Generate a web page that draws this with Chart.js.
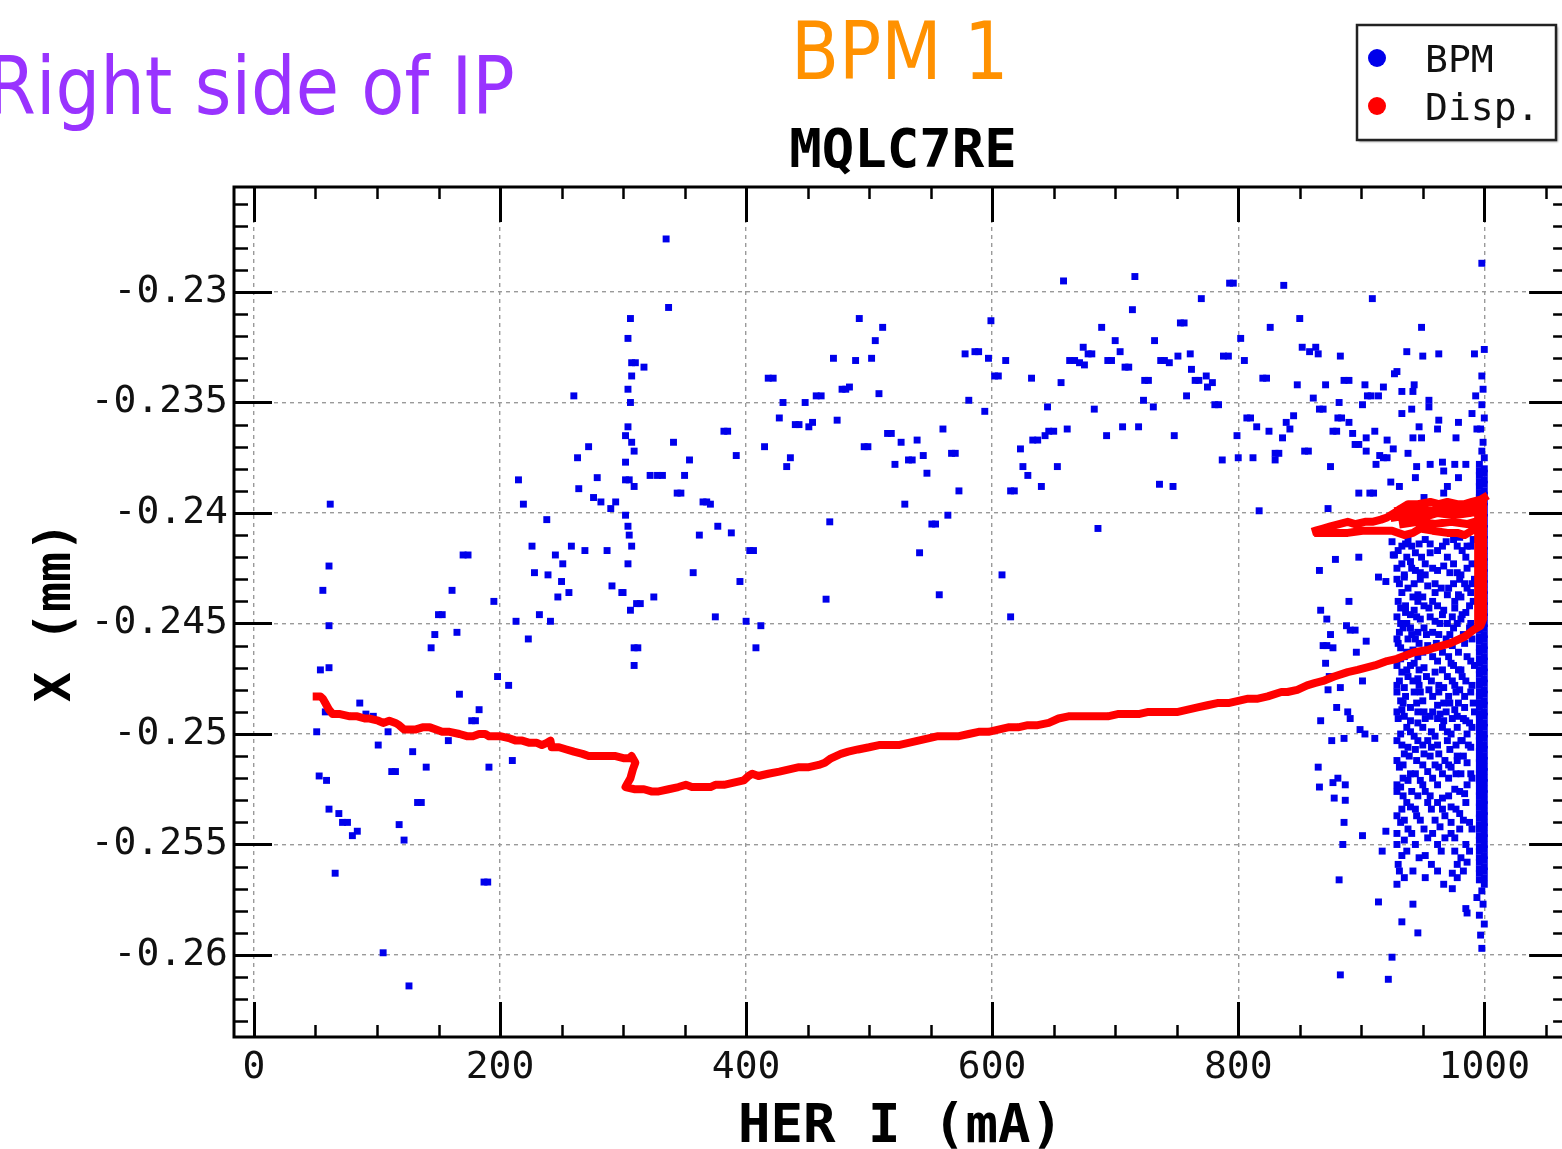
<!DOCTYPE html>
<html>
<head>
<meta charset="utf-8">
<script src="https://cdn.jsdelivr.net/npm/chart.js@4.4.0/dist/chart.umd.min.js"></script>
<style>
  html, body { margin: 0; padding: 0; background: #fff; overflow: hidden; width: 1562px; height: 1149px; }
  #wrap { position: absolute; left: 0; top: 0; width: 1572px; height: 1149px; }
  .note { position: absolute; white-space: nowrap; font-family: "DejaVu Sans", sans-serif; font-size: 80px; line-height: 80px; }
  #side { color: #9933ff; right: 1047px; top: 47px; transform: scaleX(0.88); transform-origin: right top; }
  #bpm { color: #ff9100; left: 791px; top: 12px; transform: scaleX(0.875); transform-origin: left top; }
</style>
</head>
<body>
<div id="wrap"><canvas id="chart" width="1572" height="1149"></canvas></div>
<div class="note" id="side">Right side of IP</div>
<div class="note" id="bpm">BPM 1</div>
<script>
// 축 눈금 값
var xTickVals = [0, 200, 400, 600, 800, 1000];
var yTickVals = [-0.26, -0.255, -0.25, -0.245, -0.24, -0.235, -0.23];

// BPM 측정점 [HER I (mA), X (mm)]
var bpmPoints = [
  [62,-0.2396],[61,-0.2424],[56,-0.2435],[61,-0.2451],[54,-0.2471],[61,-0.2470],[58,-0.2490],[51,-0.2499],
  [86,-0.2486],[91,-0.2491],[97,-0.2492],[109,-0.2499],[101,-0.2505],[53,-0.2519],[59,-0.2521],[61,-0.2534],
  [69,-0.2536],[72,-0.2540],[76,-0.2540],[80,-0.2546],[84,-0.2544],[66,-0.2563],[112,-0.2517],[115,-0.2517],
  [129,-0.2508],[140,-0.2515],[118,-0.2541],[122,-0.2548],[133,-0.2531],[136,-0.2531],[105,-0.2599],[126,-0.2614],
  [144,-0.2461],[147,-0.2455],[165,-0.2454],[167,-0.2482],[158,-0.2503],[183,-0.2489],[177,-0.2494],[180,-0.2494],
  [198,-0.2474],[207,-0.2478],[191,-0.2515],[210,-0.2512],[187,-0.2567],[190,-0.2567],[223,-0.2457],[213,-0.2449],
  [241,-0.2449],[309,-0.2461],[312,-0.2461],[309,-0.2469],[400,-0.2449],[408,-0.2461],
  [170,-0.2419],[174,-0.2419],[161,-0.2435],[150,-0.2446],[153,-0.2446],[195,-0.2440],[215,-0.2385],[219,-0.2396],
  [238,-0.2403],[226,-0.2415],[228,-0.2427],[239,-0.2428],[245,-0.2419],[251,-0.2423],[250,-0.2431],[247,-0.2438],
  [256,-0.2436],[258,-0.2415],[269,-0.2417],[287,-0.2417],[291,-0.2433],[299,-0.2436],[232,-0.2446],[260,-0.2347],
  [272,-0.2370],[263,-0.2375],[279,-0.2384],[264,-0.2389],[276,-0.2393],[282,-0.2395],[290,-0.2398],[294,-0.2395],
  [335,-0.2276],[337,-0.2307],[306,-0.2312],[304,-0.2321],[307,-0.2332],[310,-0.2332],[317,-0.2334],[307,-0.2338],
  [304,-0.2344],[306,-0.2350],[304,-0.2361],[302,-0.2365],[307,-0.2368],[309,-0.2372],[302,-0.2377],[302,-0.2385],
  [305,-0.2385],[309,-0.2388],[341,-0.2368],[322,-0.2383],[328,-0.2383],[332,-0.2383],[350,-0.2383],[354,-0.2376],
  [344,-0.2391],[347,-0.2391],[382,-0.2363],[385,-0.2363],[392,-0.2374],[365,-0.2395],[368,-0.2395],[371,-0.2396],
  [302,-0.2401],[304,-0.2406],[305,-0.2410],[307,-0.2415],[304,-0.2423],[362,-0.2410],[377,-0.2406],[388,-0.2409],
  [403,-0.2417],[406,-0.2417],[357,-0.2427],[395,-0.2431],[300,-0.2436],[325,-0.2438],[311,-0.2441],[314,-0.2441],
  [306,-0.2444],[375,-0.2447],[412,-0.2451],[418,-0.2339],[422,-0.2339],[430,-0.2350],[427,-0.2357],[415,-0.2370],
  [436,-0.2375],[433,-0.2379],[440,-0.2360],[443,-0.2360],[451,-0.2361],[454,-0.2359],[448,-0.2350],[457,-0.2347],
  [461,-0.2347],[471,-0.2330],[474,-0.2358],[478,-0.2344],[481,-0.2344],[484,-0.2343],[489,-0.2331],[492,-0.2312],
  [502,-0.2330],[505,-0.2322],[511,-0.2316],[508,-0.2346],[496,-0.2370],[499,-0.2370],[515,-0.2364],[518,-0.2364],
  [526,-0.2368],[539,-0.2367],[521,-0.2378],[532,-0.2376],[535,-0.2376],[544,-0.2374],[547,-0.2382],[560,-0.2362],
  [567,-0.2373],[570,-0.2373],[573,-0.2390],[529,-0.2396],[468,-0.2404],[551,-0.2405],[554,-0.2405],[564,-0.2401],
  [541,-0.2418],[465,-0.2439],[557,-0.2437],[578,-0.2328],[586,-0.2327],[589,-0.2327],[597,-0.2330],[599,-0.2313],
  [602,-0.2338],[605,-0.2338],[581,-0.2349],[594,-0.2354],[611,-0.2331],[615,-0.2390],[618,-0.2390],[608,-0.2428],
  [615,-0.2447],
  [658,-0.2295],[716,-0.2293],[793,-0.2296],[796,-0.2296],[837,-0.2297],[770,-0.2303],[909,-0.2303],[714,-0.2308],
  [753,-0.2314],[756,-0.2314],[689,-0.2316],[826,-0.2316],[850,-0.2312],[802,-0.2321],[732,-0.2322],[700,-0.2322],
  [674,-0.2325],[704,-0.2327],[678,-0.2328],[681,-0.2328],[663,-0.2331],[667,-0.2331],[671,-0.2332],[675,-0.2333],
  [694,-0.2331],[697,-0.2331],[708,-0.2334],[711,-0.2334],[737,-0.2331],[740,-0.2331],[744,-0.2332],[751,-0.2329],
  [761,-0.2328],[762,-0.2335],[774,-0.2338],[765,-0.2340],[768,-0.2340],[779,-0.2341],[775,-0.2343],[788,-0.2329],
  [792,-0.2329],[805,-0.2331],[852,-0.2325],[858,-0.2327],[863,-0.2325],[865,-0.2328],[883,-0.2329],[927,-0.2337],
  [632,-0.2339],[656,-0.2341],[724,-0.2340],[727,-0.2340],[820,-0.2339],[823,-0.2339],[848,-0.2342],[871,-0.2342],
  [886,-0.2340],[890,-0.2340],[903,-0.2342],[918,-0.2343],[914,-0.2347],[905,-0.2347],[908,-0.2347],[758,-0.2347],
  [723,-0.2349],[731,-0.2352],[781,-0.2351],[784,-0.2351],[683,-0.2353],[645,-0.2352],[861,-0.2348],[866,-0.2353],
  [869,-0.2353],[882,-0.2350],[901,-0.2351],[807,-0.2357],[810,-0.2357],[815,-0.2361],[825,-0.2363],[839,-0.2359],
  [845,-0.2356],[842,-0.2362],[836,-0.2366],[799,-0.2365],[881,-0.2357],[884,-0.2357],[890,-0.2359],[877,-0.2363],
  [880,-0.2363],[893,-0.2364],[904,-0.2366],[911,-0.2363],[921,-0.2367],[895,-0.2369],[898,-0.2369],[904,-0.2372],
  [926,-0.2371],[915,-0.2374],[918,-0.2375],[921,-0.2375],[912,-0.2378],[854,-0.2372],[857,-0.2372],[830,-0.2373],
  [833,-0.2373],[830,-0.2376],[812,-0.2375],[800,-0.2375],[787,-0.2376],[875,-0.2379],[924,-0.2386],[898,-0.2391],
  [907,-0.2391],[910,-0.2391],[873,-0.2398],[817,-0.2399],[661,-0.2362],[646,-0.2363],[650,-0.2363],[643,-0.2365],
  [633,-0.2367],[637,-0.2367],[623,-0.2371],[693,-0.2365],[706,-0.2361],[719,-0.2361],[748,-0.2365],[625,-0.2379],
  [653,-0.2379],[629,-0.2383],[640,-0.2388],[736,-0.2387],[747,-0.2388],[686,-0.2407],[879,-0.2421],[866,-0.2426],
  [898,-0.2420],[914,-0.2429],[920,-0.2431],[890,-0.2440],[867,-0.2444],[872,-0.2448],[875,-0.2455],[888,-0.2451],
  [891,-0.2453],[895,-0.2453],[904,-0.2458],[869,-0.2460],[872,-0.2460],[925,-0.2413],[926,-0.2419],[949,-0.2316],
  [937,-0.2327],
  [877,-0.2461],[896,-0.2463],[871,-0.2468],[874,-0.2474],[883,-0.2479],[901,-0.2476],[873,-0.2480],[880,-0.2488],
  [889,-0.2490],[867,-0.2494],[891,-0.2493],[899,-0.2498],[903,-0.2500],[911,-0.2502],[876,-0.2503],[886,-0.2502],
  [865,-0.2515],[866,-0.2524],[877,-0.2522],[881,-0.2520],[887,-0.2523],[878,-0.2529],[887,-0.2530],[886,-0.2540],
  [901,-0.2546],[885,-0.2550],[917,-0.2553],[920,-0.2544],[882,-0.2566],[914,-0.2576],[942,-0.2577],[933,-0.2585],
  [946,-0.2590],[925,-0.2601],[883,-0.2609],[922,-0.2611],
  [929,-0.2336],[933,-0.2345],[942,-0.2345],[943,-0.2342],[955,-0.2349],[955,-0.2352],[941,-0.2353],[933,-0.2355],
  [947,-0.2361],[942,-0.2366],[949,-0.2366],[962,-0.2362],[963,-0.2358],[979,-0.2359],[977,-0.2366],[963,-0.2328],
  [950,-0.2329],[992,-0.2328],[1000,-0.2326],[998,-0.2338],[993,-0.2347],[990,-0.2355],[994,-0.2362],[938,-0.2373],
  [945,-0.2379],[956,-0.2378],[966,-0.2377],[976,-0.2378],[985,-0.2378],[967,-0.2381],[979,-0.2384],[944,-0.2384],
  [931,-0.2388],[970,-0.2388],[967,-0.2391],[951,-0.2393],[998,-0.2287],
  [927,-0.2419],[936,-0.2414],[947,-0.2414],[956,-0.2414],[969,-0.2413],[980,-0.2411],[986,-0.2415],[944,-0.2418],
  [956,-0.2418],[985,-0.2420],[940,-0.2422],[948,-0.2427],[967,-0.2424],[972,-0.2427],[978,-0.2427],[984,-0.2432],
  [935,-0.2429],[943,-0.2432],[954,-0.2433],[971,-0.2434],[933,-0.2436],[942,-0.2438],[950,-0.2438],[960,-0.2436],
  [981,-0.2438],[989,-0.2436],[932,-0.2443],[936,-0.2445],[943,-0.2444],[955,-0.2443],[967,-0.2444],[976,-0.2443],
  [985,-0.2445],[932,-0.2450],[940,-0.2452],[948,-0.2448],[960,-0.2449],[970,-0.2450],[981,-0.2448],[989,-0.2450],
  [931,-0.2454],[938,-0.2457],[946,-0.2454],[958,-0.2454],[963,-0.2455],[932,-0.2461],[942,-0.2462],[954,-0.2460],
  [974,-0.2460],[984,-0.2459],[932,-0.2466],[943,-0.2468],[951,-0.2470],[962,-0.2467],[973,-0.2468],[981,-0.2471],
  [989,-0.2467],[933,-0.2472],[946,-0.2475],[960,-0.2472],[970,-0.2474],[985,-0.2476],[935,-0.2479],[943,-0.2481],
  [955,-0.2480],[967,-0.2479],[980,-0.2480],[989,-0.2481],[932,-0.2485],[940,-0.2488],[950,-0.2485],[962,-0.2487],
  [972,-0.2486],[984,-0.2488],[935,-0.2492],[946,-0.2495],[956,-0.2492],[967,-0.2494],[978,-0.2492],[988,-0.2495],
  [933,-0.2489],[940,-0.2494],[951,-0.2490],[964,-0.2491],[976,-0.2489],[985,-0.2494],[932,-0.2500],[943,-0.2501],
  [954,-0.2503],[960,-0.2501],[973,-0.2500],[981,-0.2503],[986,-0.2500],[935,-0.2509],[944,-0.2507],[951,-0.2509],
  [963,-0.2509],[972,-0.2507],[978,-0.2510],[931,-0.2515],[940,-0.2518],[948,-0.2521],[954,-0.2517],[963,-0.2515],
  [973,-0.2515],[981,-0.2518],[986,-0.2513],[932,-0.2524],[938,-0.2521],[946,-0.2528],[966,-0.2529],[976,-0.2525],
  [984,-0.2527],[933,-0.2534],[940,-0.2533],[954,-0.2531],[973,-0.2533],[980,-0.2536],[988,-0.2540],[932,-0.2540],
  [964,-0.2542],[973,-0.2540],[935,-0.2548],[954,-0.2547],[968,-0.2547],[976,-0.2547],[933,-0.2555],[947,-0.2556],
  [952,-0.2555],[976,-0.2553],[981,-0.2556],[986,-0.2558],[931,-0.2562],[935,-0.2565],[952,-0.2565],[974,-0.2563],
  [978,-0.2565],[974,-0.2570],[986,-0.2581],
  [938,-0.2412],[952,-0.2412],[975,-0.2412],[991,-0.2412],[930,-0.2417],[962,-0.2417],[982,-0.2417],[933,-0.2423],
  [952,-0.2423],[975,-0.2423],[990,-0.2423],[944,-0.2426],[962,-0.2426],[929,-0.2430],[948,-0.2430],[980,-0.2430],
  [992,-0.2430],[938,-0.2434],[965,-0.2434],[986,-0.2434],[930,-0.2440],[946,-0.2440],[958,-0.2440],[976,-0.2440],
  [991,-0.2440],[940,-0.2446],[966,-0.2446],[982,-0.2446],[934,-0.2452],[951,-0.2452],[975,-0.2452],[988,-0.2452],
  [929,-0.2457],[944,-0.2457],[969,-0.2457],[990,-0.2457],[937,-0.2463],[950,-0.2463],[966,-0.2463],[979,-0.2463],
  [929,-0.2469],[940,-0.2469],[975,-0.2469],[992,-0.2469],[938,-0.2474],[953,-0.2474],[982,-0.2474],[929,-0.2478],
  [947,-0.2478],[963,-0.2478],[976,-0.2478],[990,-0.2478],[936,-0.2483],[958,-0.2483],[971,-0.2483],[984,-0.2483],
  [929,-0.2490],[946,-0.2490],[958,-0.2490],[969,-0.2490],[992,-0.2490],[937,-0.2497],[950,-0.2497],[966,-0.2497],
  [978,-0.2497],[990,-0.2497],[929,-0.2503],[946,-0.2503],[970,-0.2503],[982,-0.2503],[938,-0.2506],[957,-0.2506],
  [989,-0.2506],[929,-0.2512],[945,-0.2512],[968,-0.2512],[978,-0.2512],[934,-0.2520],[958,-0.2520],[971,-0.2520],
  [990,-0.2520],[929,-0.2526],[941,-0.2526],[952,-0.2526],[980,-0.2526],[937,-0.2531],[962,-0.2531],[985,-0.2531],
  [929,-0.2537],[945,-0.2537],[968,-0.2537],[938,-0.2543],[951,-0.2543],[980,-0.2543],[990,-0.2543],[929,-0.2550],
  [944,-0.2550],[962,-0.2550],[985,-0.2550],[930,-0.2559],[957,-0.2559],[978,-0.2559],[929,-0.2568],[967,-0.2568],
  [933,-0.2415],[941,-0.2415],[966,-0.2415],[978,-0.2415],[989,-0.2415],[937,-0.2420],[949,-0.2420],[970,-0.2420],
  [929,-0.2425],[941,-0.2425],[958,-0.2425],[986,-0.2425],[935,-0.2428],[952,-0.2428],[981,-0.2428],[931,-0.2432],
  [960,-0.2432],[975,-0.2432],[990,-0.2432],[946,-0.2437],[970,-0.2437],[979,-0.2437],[936,-0.2442],[951,-0.2442],
  [962,-0.2442],[988,-0.2442],[929,-0.2447],[945,-0.2447],[956,-0.2447],[974,-0.2447],[937,-0.2450],[964,-0.2450],
  [978,-0.2450],[941,-0.2455],[953,-0.2455],[972,-0.2455],[983,-0.2455],[930,-0.2459],[947,-0.2459],[961,-0.2459],
  [935,-0.2465],[946,-0.2465],[958,-0.2465],[971,-0.2465],[986,-0.2465],[937,-0.2471],[947,-0.2471],[966,-0.2471],
  [979,-0.2471],[931,-0.2476],[942,-0.2476],[957,-0.2476],[974,-0.2476],[929,-0.2481],[948,-0.2481],[963,-0.2481],
  [977,-0.2481],[934,-0.2486],[945,-0.2486],[967,-0.2486],[979,-0.2486],[991,-0.2486],[930,-0.2493],[952,-0.2493],
  [962,-0.2493],[974,-0.2493],[983,-0.2493],[940,-0.2499],[957,-0.2499],[970,-0.2499],[933,-0.2505],[950,-0.2505],
  [962,-0.2505],[977,-0.2505],[987,-0.2505],[939,-0.2510],[956,-0.2510],[983,-0.2510],[934,-0.2514],[950,-0.2514],
  [960,-0.2514],[971,-0.2514],[944,-0.2518],[966,-0.2518],[977,-0.2518],[989,-0.2518],[929,-0.2523],[950,-0.2523],
  [962,-0.2523],[986,-0.2523],[934,-0.2528],[956,-0.2528],[971,-0.2528],[944,-0.2534],[957,-0.2534],[966,-0.2534],
  [977,-0.2534],[935,-0.2539],[948,-0.2539],[960,-0.2539],[983,-0.2539],[929,-0.2545],[941,-0.2545],[958,-0.2545],
  [973,-0.2545],[937,-0.2553],[965,-0.2553],[988,-0.2553],[942,-0.2562],[962,-0.2562],[983,-0.2562],
  [998,-0.2571],[994,-0.2574],[999,-0.2577],[996,-0.2582],[1000,-0.2586],[997,-0.2591],[998,-0.2597],[985,-0.2579],
  [999,-0.2344],[998,-0.2351],[1000,-0.2357],[997,-0.2362],[999,-0.2368],[998,-0.2372],[1000,-0.2375]
];

// 1000 mA 에서 쌓인 BPM 점 (세로 띠)
var stack996X = [
  -0.2378,-0.2381,-0.2383,-0.2386,-0.2388,-0.2391,-0.2393,-0.2396,-0.2398,-0.2401,
  -0.2403,-0.2406,-0.2408,-0.2411,-0.2413,-0.2416,-0.2418,-0.2421,-0.2423,-0.2426,
  -0.2428,-0.2431,-0.2433,-0.2436,-0.2438,-0.2441,-0.2443,-0.2446,-0.2448,-0.2451,
  -0.2453,-0.2456,-0.2458,-0.2461,-0.2463,-0.2466,-0.2468,-0.2471,-0.2473,-0.2476,
  -0.2478,-0.2481,-0.2483,-0.2486,-0.2488,-0.2491,-0.2493,-0.2496,-0.2498,-0.2501,
  -0.2503,-0.2506,-0.2508,-0.2511,-0.2513,-0.2516,-0.2518,-0.2521,-0.2523,-0.2526,
  -0.2528,-0.2531,-0.2533,-0.2536,-0.2538,-0.2541,-0.2543,-0.2546,-0.2548,-0.2551,
  -0.2553,-0.2556,-0.2558,-0.2561,-0.2563,-0.2566
];
var stack1000X = [
  -0.2380,-0.2382,-0.2385,-0.2387,-0.2390,-0.2392,-0.2395,-0.2397,-0.2400,-0.2402,
  -0.2405,-0.2407,-0.2410,-0.2412,-0.2415,-0.2417,-0.2420,-0.2422,-0.2425,-0.2427,
  -0.2430,-0.2432,-0.2435,-0.2437,-0.2440,-0.2442,-0.2445,-0.2447,-0.2450,-0.2452,
  -0.2455,-0.2457,-0.2460,-0.2462,-0.2465,-0.2467,-0.2470,-0.2472,-0.2475,-0.2477,
  -0.2480,-0.2482,-0.2485,-0.2487,-0.2490,-0.2492,-0.2495,-0.2497,-0.2500,-0.2502,
  -0.2505,-0.2507,-0.2510,-0.2512,-0.2515,-0.2517,-0.2520,-0.2522,-0.2525,-0.2527,
  -0.2530,-0.2532,-0.2535,-0.2537,-0.2540,-0.2542,-0.2545,-0.2547,-0.2550,-0.2552,
  -0.2555,-0.2557,-0.2560,-0.2562,-0.2565,-0.2568
];

// Dispersion 계산값 [HER I (mA), X (mm)], null 은 선 끊김
var dispPoints = [
  [51,-0.2483],[54,-0.2483],[56,-0.2484],[58,-0.2486],[61,-0.2489],[64,-0.2491],[70,-0.2491],[78,-0.2492],
  [84,-0.2492],[90,-0.2493],[94,-0.2493],[101,-0.2494],[105,-0.2495],[110,-0.2494],[115,-0.2495],[118,-0.2496],
  [122,-0.2498],[127,-0.2498],[131,-0.2498],[137,-0.2497],[143,-0.2497],[148,-0.2498],[153,-0.2499],[159,-0.2499],
  [167,-0.2500],[173,-0.2501],[178,-0.2501],[183,-0.2500],[188,-0.2500],[191,-0.2501],[200,-0.2501],[208,-0.2502],
  [213,-0.2503],[218,-0.2503],[224,-0.2504],[230,-0.2504],[234,-0.2505],[238,-0.2504],[241,-0.2503],[242,-0.2506],
  [248,-0.2506],[254,-0.2507],[260,-0.2508],[267,-0.2509],[272,-0.2510],[281,-0.2510],[289,-0.2510],[294,-0.2510],
  [301,-0.2511],[305,-0.2511],[307,-0.2510],[310,-0.2513],[308,-0.2516],[306,-0.2520],[303,-0.2523],[302,-0.2524],
  [309,-0.2525],[317,-0.2525],[323,-0.2526],[329,-0.2526],[337,-0.2525],[345,-0.2524],[351,-0.2523],[356,-0.2524],
  [362,-0.2524],[367,-0.2524],[371,-0.2524],[375,-0.2523],[382,-0.2523],[390,-0.2522],[398,-0.2521],[402,-0.2519],
  [405,-0.2518],[410,-0.2519],[418,-0.2518],[427,-0.2517],[435,-0.2516],[443,-0.2515],[451,-0.2515],[459,-0.2514],
  [464,-0.2513],[469,-0.2511],[477,-0.2509],[483,-0.2508],[491,-0.2507],[500,-0.2506],[508,-0.2505],[516,-0.2505],
  [524,-0.2505],[532,-0.2504],[540,-0.2503],[548,-0.2502],[556,-0.2501],[564,-0.2501],[573,-0.2501],[581,-0.2500],
  [589,-0.2499],[597,-0.2499],[605,-0.2498],[613,-0.2497],[621,-0.2497],[629,-0.2496],[637,-0.2496],[646,-0.2495],
  [654,-0.2493],[662,-0.2492],[670,-0.2492],[678,-0.2492],[686,-0.2492],[694,-0.2492],[702,-0.2491],[710,-0.2491],
  [719,-0.2491],[727,-0.2490],[735,-0.2490],[743,-0.2490],[751,-0.2490],[759,-0.2489],[767,-0.2488],[775,-0.2487],
  [783,-0.2486],[792,-0.2486],[800,-0.2485],[808,-0.2484],[816,-0.2484],[824,-0.2483],[835,-0.2481],[840,-0.2481],
  [848,-0.2480],[856,-0.2478],[862,-0.2477],[869,-0.2476],[878,-0.2474],[889,-0.2472],[897,-0.2471],[911,-0.2469],
  [921,-0.2467],[929,-0.2466],[943,-0.2463],[954,-0.2462],[959,-0.2461],[972,-0.2459],[984,-0.2456],[991,-0.2453],
  [997,-0.2451],[999,-0.2448],[999,-0.2439],[999,-0.2430],[999,-0.2421],[999,-0.2412],[999,-0.2403],[999,-0.2394],
  null,
  [995,-0.2450],[995,-0.2430],[995,-0.2410],[995,-0.2396],
  null,
  [863,-0.2408],[869,-0.2407],[875,-0.2406],[882,-0.2405],[889,-0.2404],[895,-0.2405],[903,-0.2404],[909,-0.2404],
  [916,-0.2403],[921,-0.2402],[927,-0.2400],[932,-0.2398],[938,-0.2396],[946,-0.2396],[956,-0.2395],[963,-0.2396],
  [970,-0.2395],[978,-0.2396],[984,-0.2396],[990,-0.2395],[997,-0.2394],[1000,-0.2393],
  null,
  [865,-0.2409],[877,-0.2409],[889,-0.2409],[901,-0.2408],[916,-0.2408],[925,-0.2408],[935,-0.2410],[942,-0.2409],
  [948,-0.2407],[958,-0.2408],[970,-0.2409],[978,-0.2409],[984,-0.2410],[990,-0.2408],[997,-0.2406],
  null,
  [927,-0.2402],[938,-0.2401],[950,-0.2402],[962,-0.2400],[975,-0.2401],[988,-0.2400],[998,-0.2399],
  null,
  [930,-0.2399],[944,-0.2398],[957,-0.2399],[970,-0.2398],[985,-0.2399],[998,-0.2397],
  null,
  [934,-0.2405],[946,-0.2404],[960,-0.2405],[973,-0.2404],[986,-0.2405],[998,-0.2403]
];

var BLUE = 'rgb(0, 0, 235)';
var RED = 'rgb(255, 0, 0)';
var MONO = '"DejaVu Sans Mono", monospace';

// 데이터셋 만들기
var bpmData = bpmPoints.map(function(p) { return { x: p[0], y: p[1] }; });
stack996X.forEach(function(v) { bpmData.push({ x: 996, y: v }); });
stack1000X.forEach(function(v) { bpmData.push({ x: 1000, y: v }); });
var dispData = dispPoints.map(function(p) { return p ? { x: p[0], y: p[1] } : { x: null, y: null }; });

// 테두리, 안쪽 눈금, 제목, 범례 그리기
var frameTicks = {
  id: 'frameTicks',
  afterDraw: function(chart) {
    var ctx = chart.ctx, a = chart.chartArea;
    var xs = chart.scales.x, ys = chart.scales.y;
    ctx.save();
    ctx.strokeStyle = '#000';
    function seg(x1, y1, x2, y2) { ctx.beginPath(); ctx.moveTo(x1, y1); ctx.lineTo(x2, y2); ctx.stroke(); }

    for (var v = 0; v <= xs.max; v += 50) {
      var px = Math.round(xs.getPixelForValue(v)) + 0.5;
      var major = xTickVals.indexOf(v) >= 0;
      var len = major ? 35 : 12;
      ctx.lineWidth = major ? 3 : 2.5;
      seg(px, a.bottom, px, a.bottom - len);
      seg(px, a.top, px, a.top + len);
    }
    for (var k = -263; k <= -226; k++) {
      var py = Math.round(ys.getPixelForValue(k / 1000)) + 0.5;
      var maj = (k % 5 === 0);
      var l = maj ? 38 : 14;
      ctx.lineWidth = maj ? 3 : 2.5;
      seg(a.left, py, a.left + l, py);
      seg(a.right, py, a.right - l, py);
    }
    ctx.lineWidth = 3;
    ctx.strokeRect(a.left, a.top, a.right - a.left, a.bottom - a.top);

    // 제목
    ctx.fillStyle = '#000';
    ctx.font = 'bold 54px ' + MONO;
    ctx.textAlign = 'center';
    ctx.textBaseline = 'alphabetic';
    ctx.fillText('MQLC7RE', 903, 167);

    // 범례
    ctx.save();
    ctx.shadowColor = 'rgba(0,0,0,0.35)';
    ctx.shadowOffsetX = 2;
    ctx.shadowOffsetY = 2;
    ctx.shadowBlur = 2;
    ctx.fillStyle = '#fff';
    ctx.fillRect(1357, 25, 199, 115);
    ctx.restore();
    ctx.lineWidth = 2.5;
    ctx.strokeStyle = '#222';
    ctx.strokeRect(1357, 25, 199, 115);
    ctx.textAlign = 'left';
    ctx.font = '38px ' + MONO;
    chart.data.datasets.slice().sort(function(p, q) { return q.order - p.order; }).forEach(function(ds, i) {
      var cy = 58 + i * 48;
      ctx.fillStyle = ds.legendColor;
      ctx.beginPath();
      ctx.arc(1377, cy, 9, 0, Math.PI * 2);
      ctx.fill();
      ctx.fillStyle = '#111';
      ctx.fillText(ds.label, 1425, cy + 14);
    });
    ctx.restore();
  }
};

new Chart(document.getElementById('chart').getContext('2d'), {
  type: 'scatter',
  data: {
    datasets: [{
      label: 'BPM',
      data: bpmData,
      order: 1,
      legendColor: BLUE,
      pointStyle: 'rect',
      pointRadius: 4.9,
      pointBorderWidth: 0,
      backgroundColor: BLUE,
      borderColor: BLUE
    }, {
      label: 'Disp.',
      data: dispData,
      order: 0,
      legendColor: RED,
      showLine: true,
      spanGaps: false,
      borderColor: RED,
      backgroundColor: RED,
      borderWidth: 8,
      borderJoinStyle: 'round',
      borderCapStyle: 'square',
      pointRadius: 0
    }]
  },
  options: {
    responsive: false,
    animation: false,
    events: [],
    layout: { padding: { top: 187, right: 2, left: 0, bottom: 0 } },
    plugins: { legend: { display: false }, title: { display: false }, tooltip: { enabled: false } },
    scales: {
      x: {
        type: 'linear',
        min: -16.22,
        max: 1067.3,
        afterBuildTicks: function(s) { s.ticks = xTickVals.map(function(v) { return { value: v }; }); },
        afterFit: function(s) { s.height = 112; },
        grid: { color: '#9a9a9a', lineWidth: 1.4, drawTicks: false },
        border: { display: false, dash: [4, 4] },
        ticks: { autoSkip: false, maxRotation: 0, padding: 8, color: '#111', font: { family: MONO, size: 38 }, callback: function(v) { return String(v); } },
        title: { display: true, text: 'HER I (mA)', color: '#000', padding: 0, font: { family: MONO, size: 54, weight: 'bold', lineHeight: 0.78 } }
      },
      y: {
        type: 'linear',
        min: -0.263711,
        max: -0.225249,
        afterBuildTicks: function(s) { s.ticks = yTickVals.map(function(v) { return { value: v }; }); },
        afterFit: function(s) { s.width = 234; },
        grid: { color: '#9a9a9a', lineWidth: 1.4, drawTicks: false },
        border: { display: false, dash: [4, 4] },
        ticks: { autoSkip: false, padding: 6, color: '#111', font: { family: MONO, size: 38 }, callback: function(v) { return String(v); } },
        title: { display: true, text: 'X (mm)', color: '#000', padding: { top: 32 }, font: { family: MONO, size: 50, weight: 'bold', lineHeight: 1 } }
      }
    }
  },
  plugins: [frameTicks]
});
</script>
</body>
</html>
